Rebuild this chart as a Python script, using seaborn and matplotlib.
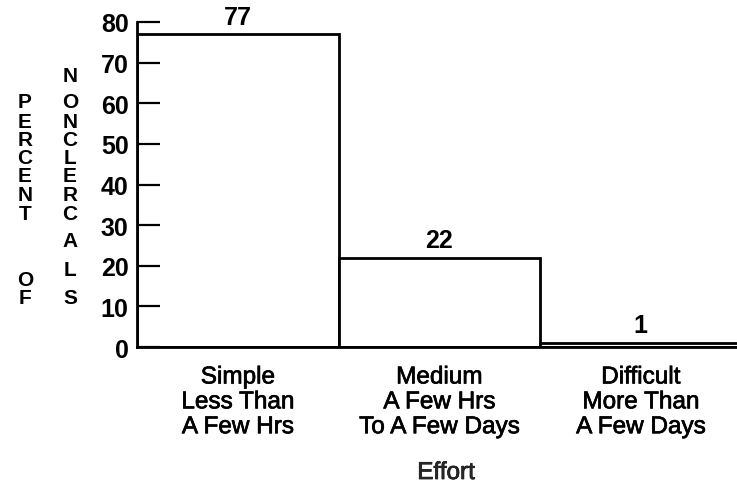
import matplotlib
matplotlib.use("Agg")
import matplotlib.pyplot as plt
import matplotlib.patheffects as pe
import seaborn as sns
import pandas as pd

categories = ["Simple\nLess Than\nA Few Hrs",
              "Medium\nA Few Hrs\nTo A Few Days",
              "Difficult\nMore Than\nA Few Days"]
values = [77, 22, 1]
yticks = [0, 10, 20, 30, 40, 50, 60, 70, 80]
xlabel = "Effort"
ylabel_col1 = "PERCENT  OF"
ylabel_col2 = "NONCLERCALS"

sns.set_theme(style="white")
plt.rcParams["font.family"] = ["Liberation Sans", "DejaVu Sans"]

W, H = 737, 489
fig = plt.figure(figsize=(W / 100, H / 100), dpi=100)
ax = fig.add_axes([137 / W, 1 - 348 / H, 604.5 / W, (348 - 23) / H])

df = pd.DataFrame({"cat": categories, "val": values})
sns.barplot(data=df, x="cat", y="val", width=1.0, color="white", saturation=1,
            edgecolor="black", linewidth=2.0, ax=ax)
ax.set_axisbelow(False)

thick = [pe.withStroke(linewidth=0.5, foreground="black")]

ax.set_xlim(-0.5, 2.5)
ax.set_ylim(0, 80)
ax.set_yticks(yticks)
ax.set_yticklabels([str(t) for t in yticks], fontsize=18, fontweight="bold")
ax.tick_params(axis="y", direction="in", length=16.5, width=1.6, pad=6,
               color="black", labelcolor="black", left=True)
ax.tick_params(axis="x", length=0, pad=14, labelsize=17.5, labelcolor="black")
for lab in ax.get_xticklabels():
    lab.set_linespacing(1.17)
    lab.set_ha("center")
    lab.set_path_effects(thick)

for s in ["top", "right"]:
    ax.spines[s].set_visible(False)
for s in ["left", "bottom"]:
    ax.spines[s].set_color("black")
    ax.spines[s].set_linewidth(2.0)

ax.set_xlabel("")
ax.set_ylabel("")

for i, v in enumerate(values):
    ax.annotate(str(v), (i, v), xytext=(0, 4), textcoords="offset points",
                ha="center", va="bottom", fontsize=18, fontweight="bold",
                color="black")

fig.text(446 / W, 1 - 474 / H, xlabel, ha="center", va="center", fontsize=17.5,
         path_effects=thick)

ys1 = [102, 122, 140, 159, 177, 196, 215, 0, 280, 298]
for ch, y in zip(ylabel_col1.replace("  ", " "), ys1):
    if ch.strip():
        fig.text(25 / W, 1 - y / H, ch, ha="center", va="center",
                 fontsize=15, fontweight="bold", color="black")
ys2 = [76, 103, 122, 140, 159, 177, 196, 215, 242, 270, 298]
for ch, y in zip(ylabel_col2, ys2):
    fig.text(70 / W, 1 - y / H, ch, ha="center", va="center",
             fontsize=15, fontweight="bold", color="black")

fig.savefig("out.png", dpi=100)
